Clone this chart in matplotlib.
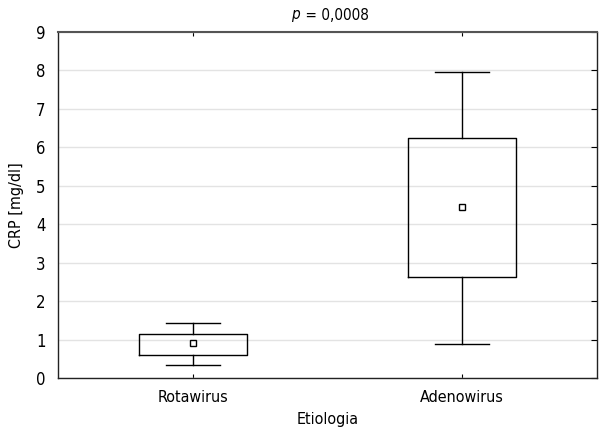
import matplotlib
matplotlib.use("Agg")
import matplotlib.pyplot as plt

# dane
groups = ["Rotawirus", "Adenowirus"]
medians = [0.90, 4.45]
q1 = [0.60, 2.63]
q3 = [1.15, 6.24]
whisker_low = [0.34, 0.89]
whisker_high = [1.42, 7.96]
y_ticks = list(range(0, 10))

plt.rcParams["font.family"] = ["DejaVu Sans"]
plt.rcParams["font.stretch"] = "condensed"

fig = plt.figure(figsize=(6.03, 4.34), dpi=100)
ax = fig.add_axes([58 / 603, 1 - 378 / 434, 539 / 603, 346 / 434])

stats = []
for i, g in enumerate(groups):
    stats.append({
        "label": g, "med": medians[i], "q1": q1[i], "q3": q3[i],
        "whislo": whisker_low[i], "whishi": whisker_high[i], "fliers": [],
    })

ax.bxp(stats, positions=[1, 2], widths=0.4, showfliers=False,
       boxprops=dict(color="black", linewidth=1.0),
       whiskerprops=dict(color="black", linewidth=1.0),
       capprops=dict(color="black", linewidth=1.0),
       medianprops=dict(linewidth=0), capwidths=0.2)
ax.plot([1, 2], medians, linestyle="none", marker="s", markersize=4.5,
        markerfacecolor="white", markeredgecolor="black", markeredgewidth=1.0,
        zorder=5)

ax.set_xlim(0.5, 2.5)
ax.set_ylim(0, 9)
ax.set_yticks(y_ticks)
ax.yaxis.grid(True, color="#e3e3e3", linewidth=1.0)
ax.set_axisbelow(True)
ax.tick_params(axis="y", which="both", left=False, right=True, direction="in",
               length=4, labelsize=12, pad=9)
ax.tick_params(axis="x", which="both", top=True, bottom=True, direction="in",
               length=3, labelsize=11.5, pad=9)
ax.set_xticks([1, 2])
ax.set_xticklabels(groups)
for s in ax.spines.values():
    s.set_color("#222222")
    s.set_linewidth(1.0)
ax.spines["top"].set_color("#555555")
ax.spines["top"].set_linewidth(1.5)

ax.set_ylabel("CRP [mg/dl]", fontsize=11.5, labelpad=9)
ax.set_xlabel("Etiologia", fontsize=11.5, labelpad=5)

# tytul: kursywa p + wartosc
fig.text(300 / 603, 1 - 15 / 434, "p", style="italic", fontsize=11,
         ha="right", va="center")
fig.text(301 / 603, 1 - 15 / 434, " = 0,0008", fontsize=11,
         ha="left", va="center")

fig.savefig("out.png", dpi=100)
